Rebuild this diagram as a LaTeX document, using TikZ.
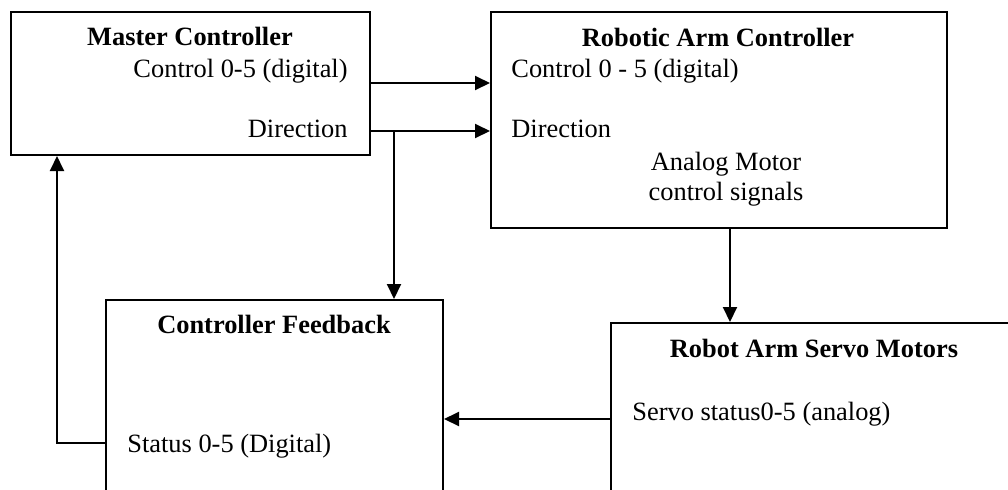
\documentclass[tikz,border=0pt]{standalone}
\usepackage{fontspec}
\setmainfont{Liberation Serif}
\usepackage{tikz}
\usetikzlibrary{arrows.meta, positioning}
\tikzstyle{block} = [rectangle, draw=black, line width=1pt, inner sep=0pt, anchor=north west]
\tikzstyle{title} = [inner sep=0pt, anchor=base, font=\fontsize{13.2}{15}\selectfont\bfseries]
\tikzstyle{lbl} = [inner sep=0pt, font=\fontsize{13.2}{15}\selectfont]
\tikzstyle{arrow} = [line width=1pt, -{Triangle[length=7.5pt, width=7pt]}]

\begin{document}
\begin{tikzpicture}[x=0.5pt, y=-0.5pt]
\clip (0,0) rectangle (1008,489);

% blocks
\node(master) [block, minimum width=179.5pt, minimum height=71.5pt] at (10,11) {};
\node(armctl) [block, minimum width=228pt, minimum height=108pt] at (490,11) {};
\node(feedback) [block, minimum width=168.5pt, minimum height=125pt] at (105,299) {};
\node(servo) [block, minimum width=250pt, minimum height=125pt] at (610,322) {};

% texts
\node(master_t) [title] at (190,45) {Master Controller};
\node(master_ctl) [lbl, anchor=base east] at (348,77) {Control 0-5 (digital)};
\node(master_dir) [lbl, anchor=base east] at (348,137) {Direction};

\node(armctl_t) [title] at (718,46) {Robotic Arm Controller};
\node(armctl_ctl) [lbl, anchor=base west] at (511,77) {Control 0 - 5 (digital)};
\node(armctl_dir) [lbl, anchor=base west] at (511,137) {Direction};
\node(armctl_an1) [lbl, anchor=base] at (726,170) {Analog Motor};
\node(armctl_an2) [lbl, anchor=base] at (726,200) {control signals};

\node(feedback_t) [title] at (274,333) {Controller Feedback};
\node(feedback_st) [lbl, anchor=base west] at (127,452) {Status 0-5 (Digital)};

\node(servo_t) [title] at (814,357) {Robot Arm Servo Motors};
\node(servo_st) [lbl, anchor=base west] at (632,420) {Servo status0-5 (analog)};

% wire positions
\coordinate(ctl_row) at (0,83);
\coordinate(dir_row) at (0,131);
\coordinate(split) at (394,131);
\coordinate(drive_col) at (730,0);
\coordinate(status_row) at (0,419);
\coordinate(fb_row) at (0,443);
\coordinate(fb_col) at (57,0);

\draw[arrow] (master.east |- ctl_row) -- (armctl.west |- ctl_row);
\draw[arrow] (master.east |- dir_row) -- (armctl.west |- dir_row);
\draw[arrow] (split) -- (split |- feedback.north);
\draw[arrow] (armctl.south -| drive_col) -- (servo.north -| drive_col);
\draw[arrow] (servo.west |- status_row) -- (feedback.east |- status_row);
\draw[arrow] (feedback.west |- fb_row) -| (master.south -| fb_col);
\end{tikzpicture}
\end{document}
